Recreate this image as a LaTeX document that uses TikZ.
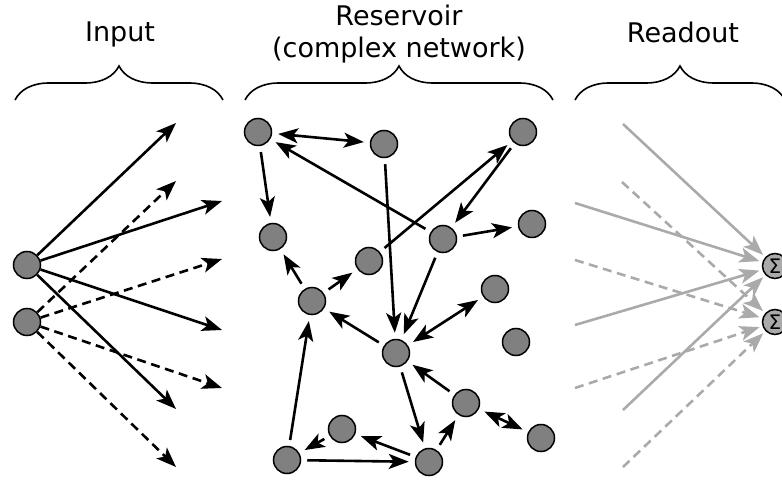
\documentclass[tikz,border=0pt]{standalone}
\usepackage{fontspec}
\setmainfont{DejaVu Sans}
\usetikzlibrary{arrows.meta,decorations.pathreplacing}

\definecolor{nodegray}{HTML}{808080}
\definecolor{readgray}{HTML}{AAAAAA}

\tikzset{
	neuron/.style={draw,inner sep=0pt,minimum size=13.5pt,fill=nodegray,circle,line width=0.75pt},
	sumnode/.style={draw,inner sep=0pt,minimum size=12.5pt,fill=readgray,circle,line width=0.75pt,font=\fontsize{10pt}{11pt}\selectfont},
	lbl/.style={anchor=base,font=\fontsize{13.5pt}{16pt}\selectfont},
	brc/.style={decorate,decoration={brace,amplitude=17pt},line width=0.8pt},
	link/.style={line width=1.3pt,shorten >=3pt,shorten <=3pt},
	feed/.style={line width=1.3pt},
	dsh/.style={dashed,dash pattern=on 4.5pt off 2.8pt},
	readline/.style={line width=1.3pt,draw=readgray,shorten >=1.5pt},
	>={Stealth[length=10pt,width=7.5pt,inset=2.5pt]}
}

\begin{document}
\begin{tikzpicture}[x=0.5pt,y=-0.5pt]
	\useasboundingbox (0,0) rectangle (782,480);

	% titles and braces
	\node[lbl] at (120,42)  (tin) {Input};
	\node[lbl] at (399,26)  (tres) {Reservoir};
	\node[lbl] at (399,58)  (tnet) {(complex network)};
	\node[lbl] at (683,43)  (tout) {Readout};
	\draw[brc] (15,100) -- (223,100);
	\draw[brc] (245,100) -- (553,100);
	\draw[brc] (575,100) -- (785,100);

	% input
	\node[neuron] at (27, 265)  (u1) {};
	\node[neuron] at (27, 322)  (u2) {};

	\coordinate (i1) at (176,123);
	\coordinate (i2) at (176,181);
	\coordinate (i3) at (222,201);
	\coordinate (i4) at (222,259);
	\coordinate (i5) at (222,330);
	\coordinate (i6) at (222,388);
	\coordinate (i7) at (176,409);
	\coordinate (i8) at (176,467);

	\draw[feed,->] (u1) -- (i1);
	\draw[feed,->] (u1) -- (i3);
	\draw[feed,->] (u1) -- (i5);
	\draw[feed,->] (u1) -- (i7);
	\draw[feed,dsh,->] (u2) -- (i2);
	\draw[feed,dsh,->] (u2) -- (i4);
	\draw[feed,dsh,->] (u2) -- (i6);
	\draw[feed,dsh,->] (u2) -- (i8);

	% reservoir
	\node[neuron] at (258, 132)  (a) {};
	\node[neuron] at (384, 144)  (b) {};
	\node[neuron] at (523, 132)  (c) {};
	\node[neuron] at (273, 237)  (d) {};
	\node[neuron] at (443, 239)  (e) {};
	\node[neuron] at (532, 224)  (f) {};
	\node[neuron] at (369, 261)  (g) {};
	\node[neuron] at (312, 301)  (h) {};
	\node[neuron] at (495, 289)  (i) {};
	\node[neuron] at (396, 353)  (j) {};
	\node[neuron] at (516, 342)  (k) {};
	\node[neuron] at (466, 403)  (l) {};
	\node[neuron] at (541, 438)  (m) {};
	\node[neuron] at (342, 429)  (n) {};
	\node[neuron] at (287, 460)  (o) {};
	\node[neuron] at (429, 462)  (p) {};

	\draw[link,<->] (a) -- (b);
	\draw[link,->] (a) -- (d);
	\draw[link,->] (e) -- (a);
	\draw[link,->] (c) -- (e);
	\draw[link,->] (g) -- (c);
	\draw[link,->] (e) -- (f);
	\draw[link,->] (h) -- (d);
	\draw[link,->] (h) -- (g);
	\draw[link,->] (b) -- (j);
	\draw[link,->] (e) -- (j);
	\draw[link,<->] (j) -- (i);
	\draw[link,->] (j) -- (h);
	\draw[link,->] (l) -- (j);
	\draw[link,->] (j) -- (p);
	\draw[link,->] (p) -- (l);
	\draw[link,<->] (l) -- (m);
	\draw[link,->] (p) -- (n);
	\draw[link,->] (n) -- (o);
	\draw[link,->] (o) -- (p);
	\draw[link,->] (o) -- (h);

	% readout
	\node[sumnode] at (775, 266)  (s1) {Σ};
	\node[sumnode] at (775, 322)  (s2) {Σ};

	\coordinate (r1) at (623,124);
	\coordinate (r2) at (622,182);
	\coordinate (r3) at (575,203);
	\coordinate (r4) at (575,260);
	\coordinate (r5) at (575,325);
	\coordinate (r6) at (575,388);
	\coordinate (r7) at (623,410);
	\coordinate (r8) at (623,467);

	\draw[readline,-{Stealth[length=10pt,width=7.5pt,inset=2.5pt,readgray]}] (r1) -- (s1);
	\draw[readline,-{Stealth[length=10pt,width=7.5pt,inset=2.5pt,readgray]}] (r3) -- (s1);
	\draw[readline,-{Stealth[length=10pt,width=7.5pt,inset=2.5pt,readgray]}] (r5) -- (s1);
	\draw[readline,-{Stealth[length=10pt,width=7.5pt,inset=2.5pt,readgray]}] (r7) -- (s1);
	\draw[readline,dsh,-{Stealth[length=10pt,width=7.5pt,inset=2.5pt,readgray]}] (r2) -- (s2);
	\draw[readline,dsh,-{Stealth[length=10pt,width=7.5pt,inset=2.5pt,readgray]}] (r4) -- (s2);
	\draw[readline,dsh,-{Stealth[length=10pt,width=7.5pt,inset=2.5pt,readgray]}] (r6) -- (s2);
	\draw[readline,dsh,-{Stealth[length=10pt,width=7.5pt,inset=2.5pt,readgray]}] (r8) -- (s2);
\end{tikzpicture}
\end{document}
